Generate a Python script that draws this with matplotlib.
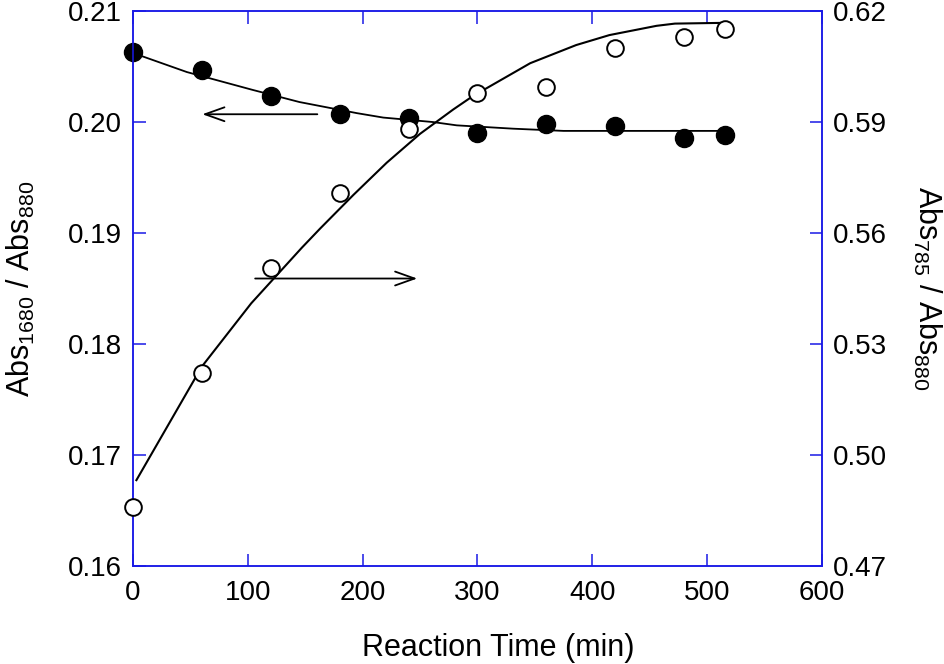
import matplotlib
matplotlib.use("Agg")
import matplotlib.pyplot as plt

plt.rcParams['font.family'] = ['Liberation Sans', 'DejaVu Sans']
plt.rcParams['mathtext.default'] = 'regular'

# ---- data ----
time_min = [0, 60, 120, 180, 240, 300, 360, 420, 480, 516]
abs1680 = [0.2063, 0.2047, 0.2023, 0.2007, 0.2004, 0.1990, 0.1998, 0.1996, 0.1986, 0.1988]
abs785 = [0.4859, 0.5222, 0.5505, 0.5708, 0.5881, 0.5978, 0.5995, 0.6100, 0.6130, 0.6151]

# fitted curves
fit_left_x = [0, 6, 47, 104, 145, 195, 218, 261, 282, 331, 375, 514]
fit_left_y = [0.2062, 0.2060, 0.2045, 0.2029, 0.2018, 0.2008, 0.2004, 0.2000,
              0.1997, 0.1994, 0.1992, 0.1992]
fit_right_x = [3, 60, 103, 147, 163, 192, 221, 250, 279, 296, 346, 386, 415,
               456, 472, 514]
fit_right_y = [0.4932, 0.5239, 0.5410, 0.5560, 0.5612, 0.5703, 0.5790, 0.5868,
               0.5934, 0.5970, 0.6059, 0.6108, 0.6135, 0.6160, 0.6166, 0.6168]

blue = '#1a1ae6'

fig = plt.figure(figsize=(9.45, 6.64), dpi=100)
ax = fig.add_axes([0.1407, 0.1476, 0.729, 0.8358])
ax2 = ax.twinx()

ax.plot(fit_left_x, fit_left_y, color='black', lw=1.3, zorder=2)
ax.plot(time_min, abs1680, 'o', color='black', ms=13, zorder=3, clip_on=False)

ax2.plot(fit_right_x, fit_right_y, color='black', lw=1.5, zorder=2)
ax2.plot(time_min, abs785, 'o', mfc='white', mec='black', mew=1.4, ms=12,
         zorder=3, clip_on=False)

ax.set_xlim(0, 600)
ax.set_ylim(0.16, 0.21)
ax2.set_ylim(0.47, 0.62)
ax.set_xticks(range(0, 601, 100))
ax.set_yticks([0.16, 0.17, 0.18, 0.19, 0.20, 0.21])
ax2.set_yticks([0.47, 0.50, 0.53, 0.56, 0.59, 0.62])
ax.set_yticklabels(['0.16', '0.17', '0.18', '0.19', '0.20', '0.21'])
ax2.set_yticklabels(['0.47', '0.50', '0.53', '0.56', '0.59', '0.62'])

for a in (ax, ax2):
    for s in a.spines.values():
        s.set_color(blue)
        s.set_linewidth(1.1)
ax.tick_params(axis='x', direction='in', length=9, width=1.1, color=blue,
               labelsize=20, top=True, pad=10)
ax.tick_params(axis='y', direction='in', length=9, width=1.1, color=blue,
               labelsize=20, pad=8)
ax2.tick_params(axis='y', direction='in', length=9, width=1.1, color=blue,
                labelsize=20, pad=8)

ax.set_xlabel('Reaction Time (min)', fontsize=22)
ax.xaxis.set_label_coords(0.53, -0.121)
ax.set_ylabel('Abs$_{1680}$ / Abs$_{880}$', fontsize=22, labelpad=22)
ax2.set_ylabel('Abs$_{785}$ / Abs$_{880}$', fontsize=22, rotation=270, labelpad=40)

# arrows showing which axis each series belongs to
arrow = dict(arrowstyle='->,head_length=0.7,head_width=0.25', color='black',
             lw=1.3, mutation_scale=20)
ax.annotate('', xy=(58, 0.2007), xytext=(163, 0.2007), arrowprops=arrow)
ax.annotate('', xy=(250, 0.1859), xytext=(104, 0.1859), arrowprops=arrow)

fig.savefig('out.png', dpi=100)
